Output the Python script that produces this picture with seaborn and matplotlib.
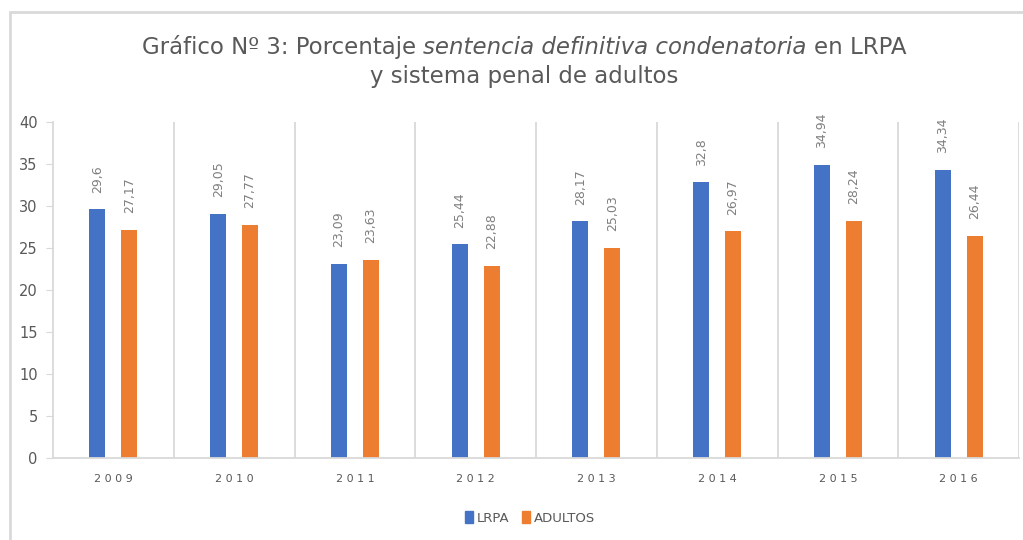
import matplotlib
matplotlib.use("Agg")
import matplotlib.pyplot as plt
import seaborn as sns
import pandas as pd
from matplotlib.patches import Rectangle, Patch
from matplotlib.ticker import MultipleLocator, FixedLocator

years = ["2009", "2010", "2011", "2012", "2013", "2014", "2015", "2016"]
lrpa = [29.6, 29.05, 23.09, 25.44, 28.17, 32.8, 34.94, 34.34]
adultos = [27.17, 27.77, 23.63, 22.88, 25.03, 26.97, 28.24, 26.44]
series = ["LRPA", "ADULTOS"]
colors = ["#4472C4", "#ED7D31"]

df = pd.DataFrame({
    "year": years * 2,
    "value": lrpa + adultos,
    "serie": [series[0]] * len(years) + [series[1]] * len(years),
})

sns.set_style("white")
plt.rcParams["font.family"] = ["DejaVu Sans"]

fig = plt.figure(figsize=(10.23, 5.4), dpi=100)
ax = fig.add_axes([53 / 1023, 1 - 458 / 540, (1019 - 53) / 1023, (458 - 122) / 540])

sns.barplot(data=df, x="year", y="value", hue="serie", palette=colors,
            width=0.53, gap=0.5, ax=ax, legend=False, saturation=1, linewidth=0)

for cont in ax.containers:
    labels = [str(round(b.get_height(), 2)).replace(".", ",") for b in cont]
    ax.bar_label(cont, labels=labels, rotation=90, padding=12,
                 fontsize=9, color="#7f7f7f")

ax.set_xlim(-0.5, 7.5)
ax.set_ylim(0, 40)
ax.yaxis.set_major_locator(MultipleLocator(5))
ax.xaxis.set_minor_locator(FixedLocator([i + 0.5 for i in range(8)]))
ax.grid(False)
ax.grid(True, which="minor", axis="x", color="#d9d9d9", linewidth=1.3)
ax.set_xlabel("")
ax.set_ylabel("")

for s in ["top", "right"]:
    ax.spines[s].set_visible(False)
for s in ["left", "bottom"]:
    ax.spines[s].set_color("#d9d9d9")
    ax.spines[s].set_linewidth(1.3)

ax.tick_params(axis="y", which="major", left=True, length=5, color="#d9d9d9",
               labelsize=10.5, labelcolor="#595959", pad=6)
ax.tick_params(axis="x", which="both", bottom=False, labelcolor="#595959", pad=8)
ax.set_xticks(range(8))
ax.set_xticklabels([" ".join(y) for y in years], fontsize=8)

# legend at bottom
handles = [Patch(color=c, label=s) for c, s in zip(colors, series)]
fig.legend(handles=handles, loc="center", bbox_to_anchor=(530 / 1023, 1 - 518 / 540),
           ncol=2, frameon=False, fontsize=9.5, handlelength=0.6, handleheight=1.0,
           handletextpad=0.3, columnspacing=0.9, labelcolor="#595959")

# outer frame of the chart
fig.add_artist(Rectangle((10 / 1023, -0.2), 1.2, 1.2 - 12 / 540,
                         transform=fig.transFigure, fill=False,
                         edgecolor="#d9d9d9", linewidth=2))

# title with italic part
renderer = fig.canvas.get_renderer()
tsize = 16.5
parts = [("Gráfico Nº 3: Porcentaje", "normal"),
         ("sentencia definitiva condenatoria", "italic"),
         ("en LRPA", "normal")]
probe = fig.text(0, 0, "a a", fontsize=tsize)
probe2 = fig.text(0, 0, "aa", fontsize=tsize)
space = probe.get_window_extent(renderer).width - probe2.get_window_extent(renderer).width
probe.remove()
probe2.remove()

texts = []
for txt, st in parts:
    t = fig.text(0, 1 - 47 / 540, txt, fontsize=tsize, style=st, color="#595959",
                 va="center", ha="left")
    texts.append(t)
widths = [t.get_window_extent(renderer).width for t in texts]
total = sum(widths) + space * (len(widths) - 1)
x0 = 524 - total / 2
for t, w in zip(texts, widths):
    t.set_x(x0 / 1023)
    x0 += w + space
fig.text(524 / 1023, 1 - 77 / 540, "y sistema penal de adultos", fontsize=tsize,
         color="#595959", ha="center", va="center")

fig.savefig("out.png", dpi=100)
